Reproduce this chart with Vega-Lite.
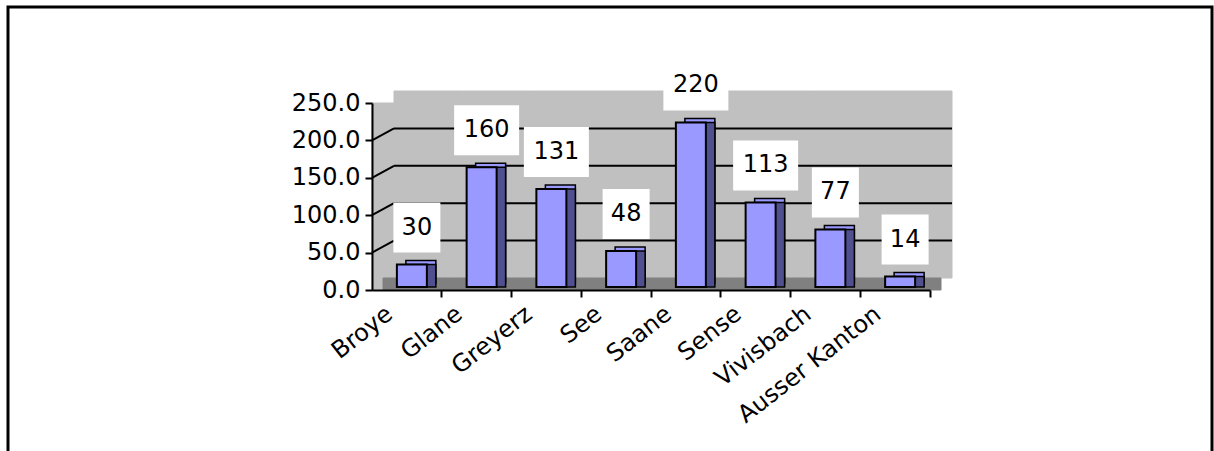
{
  "$schema": "https://vega.github.io/schema/vega-lite/v6.json",
  "width": 1204,
  "height": 446,
  "autosize": {"type": "none"},
  "padding": {"left": 8, "top": 7, "right": 2, "bottom": 0},
  "background": "white",
  "config": {
    "view": {"stroke": "black", "strokeWidth": 3, "fill": "white"},
    "font": "DejaVu Sans"
  },
  "datasets": {
    "counts": [
      {"region": "Broye", "value": 30},
      {"region": "Glane", "value": 160},
      {"region": "Greyerz", "value": 131},
      {"region": "See", "value": 48},
      {"region": "Saane", "value": 220},
      {"region": "Sense", "value": 113},
      {"region": "Vivisbach", "value": 77},
      {"region": "Ausser Kanton", "value": 14}
    ],
    "grid": [{"v": 50}, {"v": 100}, {"v": 150}, {"v": 200}]
  },
  "layer": [
    {
      "data": {"name": "counts"},
      "mark": {"type": "rect", "fill": "#C0C0C0", "stroke": "#C0C0C0", "strokeWidth": 1},
      "encoding": {
        "x": {
          "field": "region", "type": "nominal", "sort": null,
          "scale": {"type": "band", "range": [364, 922], "paddingInner": 0, "paddingOuter": 0},
          "axis": {
            "orient": "bottom", "offset": -163, "bandPosition": 1, "title": null, "zindex": 1,
            "domainColor": "black", "domainWidth": 2, "tickColor": "black", "tickWidth": 2, "tickSize": 7,
            "labelAngle": -38, "labelAlign": "right", "labelBaseline": "middle",
            "labelOffset": -17, "labelPadding": 14, "labelFont": "DejaVu Sans", "labelFontSize": 24,
            "labelColor": "black", "labelOverlap": false, "labelBound": false
          }
        },
        "y": {
          "datum": 0, "type": "quantitative",
          "scale": {"domain": [0, 250], "range": [283, 96], "nice": false, "zero": true},
          "axis": {
            "orient": "left", "offset": -364, "values": [0, 50, 100, 150, 200, 250], "format": ".1f",
            "title": null, "grid": false, "zindex": 1,
            "domainColor": "black", "domainWidth": 2, "tickColor": "black", "tickWidth": 2, "tickSize": 7,
            "labelFont": "DejaVu Sans", "labelFontSize": 24, "labelColor": "black", "labelPadding": 5
          }
        },
        "y2": {"datum": 250}
      }
    },
    {
      "data": {"name": "counts"},
      "mark": {"type": "rect", "fill": "#C0C0C0", "stroke": "#C0C0C0", "strokeWidth": 1,
               "xOffset": 22, "x2Offset": 22, "yOffset": -12, "y2Offset": -12},
      "encoding": {
        "x": {"field": "region", "type": "nominal", "sort": null},
        "y": {"datum": 0, "type": "quantitative"},
        "y2": {"datum": 250}
      }
    },
    {
      "data": {"name": "counts"},
      "mark": {"type": "rect", "fill": "#808080", "stroke": "#808080", "strokeWidth": 1,
               "xOffset": 11, "x2Offset": 11, "yOffset": 0, "y2Offset": -12},
      "encoding": {
        "x": {"field": "region", "type": "nominal", "sort": null},
        "y": {"datum": 0, "type": "quantitative"},
        "y2": {"datum": 0}
      }
    },
    {
      "data": {"name": "grid"},
      "mark": {"type": "rule", "color": "black", "strokeWidth": 2, "x2Offset": 22, "y2Offset": -12},
      "encoding": {
        "x": {"datum": "Broye", "type": "nominal", "bandPosition": 0},
        "x2": {"datum": "Broye", "bandPosition": 0},
        "y": {"field": "v", "type": "quantitative"},
        "y2": {"field": "v"}
      }
    },
    {
      "data": {"name": "grid"},
      "mark": {"type": "rule", "color": "black", "strokeWidth": 2, "xOffset": 22, "x2Offset": 22, "yOffset": -12},
      "encoding": {
        "x": {"datum": "Broye", "type": "nominal", "bandPosition": 0},
        "x2": {"datum": "Ausser Kanton", "bandPosition": 1},
        "y": {"field": "v", "type": "quantitative"}
      }
    },
    {
      "data": {"name": "counts"},
      "mark": {"type": "bar", "width": {"band": 0.43}, "fill": "#9999FF", "stroke": "black", "strokeWidth": 1.5,
               "xOffset": 14, "yOffset": -7, "y2Offset": -7},
      "encoding": {
        "x": {"field": "region", "type": "nominal", "sort": null},
        "y": {"field": "value", "type": "quantitative"},
        "y2": {"datum": 0}
      }
    },
    {
      "data": {"name": "counts"},
      "mark": {"type": "bar", "width": {"band": 0.43}, "fill": "#505090", "stroke": "black", "strokeWidth": 1.5,
               "xOffset": 14, "yOffset": -3, "y2Offset": -3},
      "encoding": {
        "x": {"field": "region", "type": "nominal", "sort": null},
        "y": {"field": "value", "type": "quantitative"},
        "y2": {"datum": 0}
      }
    },
    {
      "data": {"name": "counts"},
      "mark": {"type": "bar", "width": {"band": 0.43}, "fill": "#9999FF", "stroke": "black", "strokeWidth": 2,
               "xOffset": 5, "yOffset": -3, "y2Offset": -3},
      "encoding": {
        "x": {"field": "region", "type": "nominal", "sort": null},
        "y": {"field": "value", "type": "quantitative"},
        "y2": {"datum": 0}
      }
    },
    {
      "data": {"name": "counts"},
      "mark": {"type": "point", "filled": true, "fill": "white", "stroke": null, "opacity": 1, "size": 2500,
               "xOffset": 10, "yOffset": -40},
      "encoding": {
        "x": {"field": "region", "type": "nominal", "sort": null},
        "y": {"field": "value", "type": "quantitative"},
        "shape": {
          "condition": {"test": "datum.value >= 100", "value": "M-1.3,-1H1.3V1H-1.3Z"},
          "value": "M-0.94,-1H0.94V1H-0.94Z"
        }
      }
    },
    {
      "data": {"name": "counts"},
      "mark": {"type": "text", "font": "DejaVu Sans", "fontSize": 24, "color": "black",
               "align": "center", "baseline": "middle", "xOffset": 10, "yOffset": -40},
      "encoding": {
        "x": {"field": "region", "type": "nominal", "sort": null},
        "y": {"field": "value", "type": "quantitative"},
        "text": {"field": "value", "type": "quantitative", "format": "d"}
      }
    }
  ]
}
